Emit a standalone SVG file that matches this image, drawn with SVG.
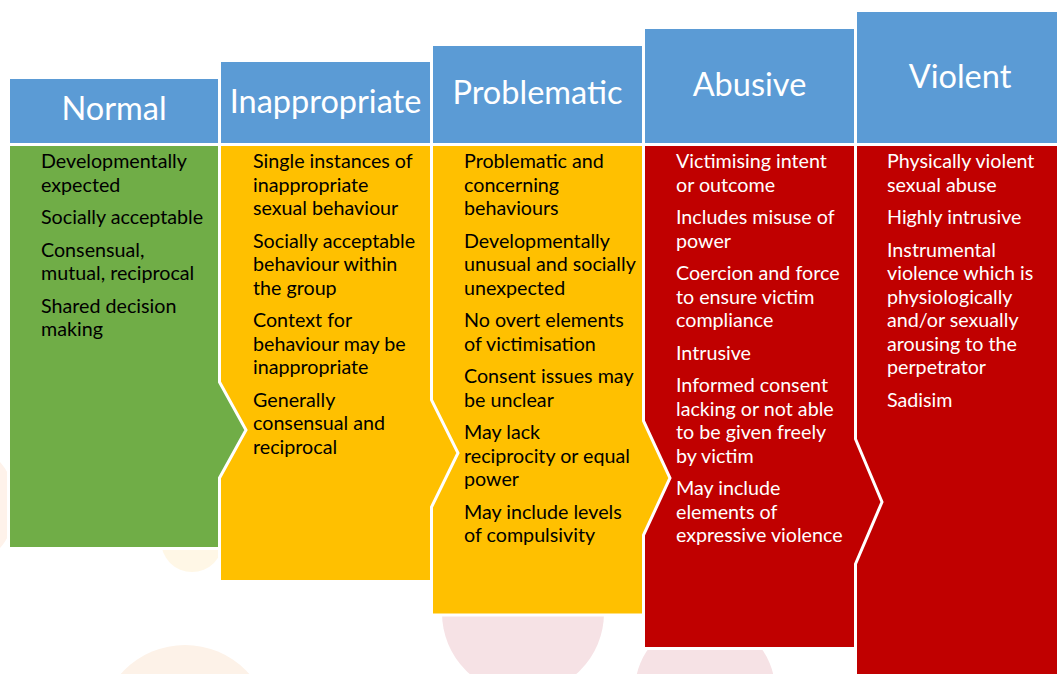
<svg xmlns="http://www.w3.org/2000/svg" width="1057" height="674" viewBox="0 0 1057 674">
  <style>
    .hdr { fill: #5B9BD5; stroke: #FFFFFF; stroke-width: 3; }
    .green { fill: #70AD47; stroke: #FFFFFF; stroke-width: 3; stroke-linejoin: miter; }
    .amber { fill: #FFC000; stroke: #FFFFFF; stroke-width: 3; stroke-linejoin: miter; }
    .red { fill: #C00000; stroke: #FFFFFF; stroke-width: 3; stroke-linejoin: miter; }
    .title { font-family: Lato, "Liberation Sans", sans-serif; font-size: 32.5px; fill: #FFFFFF; text-anchor: middle; }
    .body { font-family: Lato, "Liberation Sans", sans-serif; font-size: 19.7px; }
    .dark { fill: #000000; }
    .light { fill: #FFFFFF; }
  </style>

  <rect x="0" y="0" width="1057" height="674" fill="#FFFFFF"/>

  <!-- faint decorative discs in the backdrop -->
  <g id="backdrop">
    <circle cx="-50" cy="505" r="66" fill="#FEF2EA"/>
    <circle cx="192" cy="541" r="31" fill="#FFF7E6"/>
    <circle cx="185" cy="731" r="86" fill="#FDF2E8"/>
    <circle cx="523" cy="613" r="81" fill="#F6E2E5"/>
    <circle cx="705" cy="690" r="70" fill="#F6E2E5"/>
  </g>

  <!-- columns are painted right to left so each arrow tip overlaps its neighbour -->
  <g id="violent">
    <rect class="hdr" x="855.5" y="10.5" width="205" height="134"/>
    <text class="title" x="960" y="88">Violent</text>
    <path class="red" d="M855.5,144.5 H1060 V680 H855.5 Z"/>
    <text class="body light">
      <tspan x="887" y="168">Physically violent</tspan>
      <tspan x="887" dy="23.5">sexual abuse</tspan>
      <tspan x="887" dy="32.5">Highly intrusive</tspan>
      <tspan x="887" dy="32.5">Instrumental</tspan>
      <tspan x="887" dy="23.5">violence which is</tspan>
      <tspan x="887" dy="23.5">physiologically</tspan>
      <tspan x="887" dy="23.5">and/or sexually</tspan>
      <tspan x="887" dy="23.5">arousing to the</tspan>
      <tspan x="887" dy="23.5">perpetrator</tspan>
      <tspan x="887" dy="32.5">Sadisim</tspan>
    </text>
  </g>

  <g id="abusive">
    <rect class="hdr" x="643.5" y="27.5" width="212" height="117"/>
    <text class="title" x="749.5" y="96">Abusive</text>
    <path class="red" d="M643.5,144.5 H855.5 V439 L882,502 L855.5,564 V648.5 H643.5 Z"/>
    <text class="body light">
      <tspan x="676" y="168">Victimising intent</tspan>
      <tspan x="676" dy="23.5">or outcome</tspan>
      <tspan x="676" dy="32.5">Includes misuse of</tspan>
      <tspan x="676" dy="23.5">power</tspan>
      <tspan x="676" dy="32.5">Coercion and force</tspan>
      <tspan x="676" dy="23.5">to ensure victim</tspan>
      <tspan x="676" dy="23.5">compliance</tspan>
      <tspan x="676" dy="32.5">Intrusive</tspan>
      <tspan x="676" dy="32.5">Informed consent</tspan>
      <tspan x="676" dy="23.5">lacking or not able</tspan>
      <tspan x="676" dy="23.5">to be given freely</tspan>
      <tspan x="676" dy="23.5">by victim</tspan>
      <tspan x="676" dy="32.5">May include</tspan>
      <tspan x="676" dy="23.5">elements of</tspan>
      <tspan x="676" dy="23.5">expressive violence</tspan>
    </text>
  </g>

  <g id="problematic">
    <rect class="hdr" x="431.5" y="44.5" width="212" height="100"/>
    <text class="title" x="537.5" y="104">Problematic</text>
    <path class="amber" d="M431.5,144.5 H643.5 V421 L670,478 L643.5,535 V615 H431.5 Z"/>
    <text class="body dark">
      <tspan x="464" y="168">Problematic and</tspan>
      <tspan x="464" dy="23.5">concerning</tspan>
      <tspan x="464" dy="23.5">behaviours</tspan>
      <tspan x="464" dy="32.5">Developmentally</tspan>
      <tspan x="464" dy="23.5">unusual and socially</tspan>
      <tspan x="464" dy="23.5">unexpected</tspan>
      <tspan x="464" dy="32.5">No overt elements</tspan>
      <tspan x="464" dy="23.5">of victimisation</tspan>
      <tspan x="464" dy="32.5">Consent issues may</tspan>
      <tspan x="464" dy="23.5">be unclear</tspan>
      <tspan x="464" dy="32.5">May lack</tspan>
      <tspan x="464" dy="23.5">reciprocity or equal</tspan>
      <tspan x="464" dy="23.5">power</tspan>
      <tspan x="464" dy="32.5">May include levels</tspan>
      <tspan x="464" dy="23.5">of compulsivity</tspan>
    </text>
  </g>

  <g id="inappropriate">
    <rect class="hdr" x="219.5" y="60.5" width="212" height="84"/>
    <text class="title" x="325.5" y="113">Inappropriate</text>
    <path class="amber" d="M219.5,144.5 H431.5 V400 L458,453 L431.5,507 V581.5 H219.5 Z"/>
    <text class="body dark">
      <tspan x="253" y="168">Single instances of</tspan>
      <tspan x="253" dy="23.5">inappropriate</tspan>
      <tspan x="253" dy="23.5">sexual behaviour</tspan>
      <tspan x="253" dy="32.5">Socially acceptable</tspan>
      <tspan x="253" dy="23.5">behaviour within</tspan>
      <tspan x="253" dy="23.5">the group</tspan>
      <tspan x="253" dy="32.5">Context for</tspan>
      <tspan x="253" dy="23.5">behaviour may be</tspan>
      <tspan x="253" dy="23.5">inappropriate</tspan>
      <tspan x="253" dy="32.5">Generally</tspan>
      <tspan x="253" dy="23.5">consensual and</tspan>
      <tspan x="253" dy="23.5">reciprocal</tspan>
    </text>
  </g>

  <g id="normal">
    <rect class="hdr" x="8.5" y="77.5" width="211" height="67"/>
    <text class="title" x="114" y="120">Normal</text>
    <path class="green" d="M8.5,144.5 H219.5 V382 L246,430 L219.5,478 V548.5 H8.5 Z"/>
    <text class="body dark">
      <tspan x="41" y="168">Developmentally</tspan>
      <tspan x="41" dy="23.5">expected</tspan>
      <tspan x="41" dy="32.5">Socially acceptable</tspan>
      <tspan x="41" dy="32.5">Consensual,</tspan>
      <tspan x="41" dy="23.5">mutual, reciprocal</tspan>
      <tspan x="41" dy="32.5">Shared decision</tspan>
      <tspan x="41" dy="23.5">making</tspan>
    </text>
  </g>
</svg>
